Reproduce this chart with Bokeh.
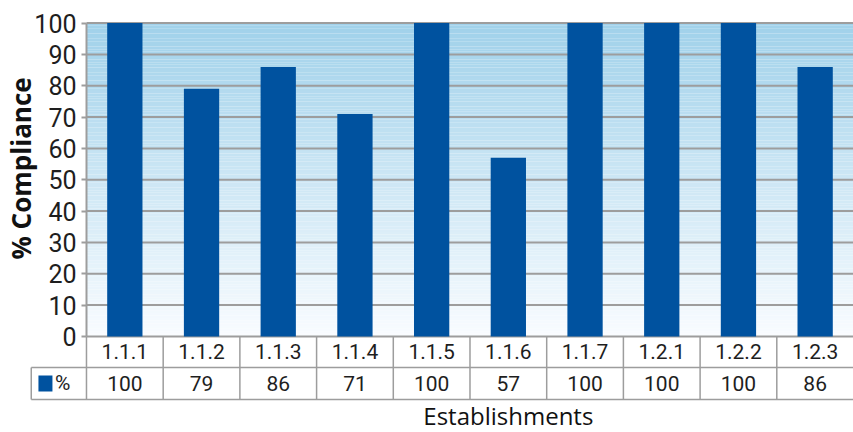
import numpy as np
from bokeh.plotting import figure
from bokeh.models import Range1d, LinearAxis, FixedTicker, Label, ColumnDataSource
from bokeh.core.properties import value
from bokeh.embed import file_html
from bokeh.resources import INLINE

categories = ["1.1.1", "1.1.2", "1.1.3", "1.1.4", "1.1.5", "1.1.6", "1.1.7", "1.2.1", "1.2.2", "1.2.3"]
compliance = [100, 79, 86, 71, 100, 57, 100, 100, 100, 86]
y_ticks = [0, 10, 20, 30, 40, 50, 60, 70, 80, 90, 100]
series_name = "%"
x_title = "Establishments"
y_title = "% Compliance"

FONT = "Roboto"
TITLE_FONT = "Open Sans"
BAR = "#00529f"
GRID = "#9d9d9d"
TXT = "#1e1e1e"

n = len(categories)
idx = np.arange(n)

p = figure(width=853, height=432, output_backend="svg", toolbar_location=None,
           x_range=Range1d(-1.621, n - 0.5), y_range=Range1d(-30.67, 107.2),
           x_axis_location=None, y_axis_location=None,
           min_border_left=0, min_border_right=0, min_border_top=0, min_border_bottom=0)
p.outline_line_color = None
p.xgrid.visible = False
p.ygrid.visible = False
p.background_fill_color = "white"
p.border_fill_color = "white"

# gradient background of the plot area (styling bands)
nb = 120
edges = np.linspace(0, 100, nb + 1)
top_c = np.array([160, 209, 234])
bot_c = np.array([249, 252, 255])
t = (edges[:-1] + edges[1:]) / 200.0
cols = ["#%02x%02x%02x" % tuple(int(round(v)) for v in (bot_c + (top_c - bot_c) * tt)) for tt in t]
p.quad(left=-0.5, right=n - 0.5, bottom=edges[:-1], top=edges[1:], fill_color=cols, line_color=None)

# horizontal grid lines
p.segment(x0=-0.5, x1=n - 0.5, y0=y_ticks, y1=y_ticks, line_color=GRID, line_width=2)

# bars
src = ColumnDataSource(dict(x=idx, top=compliance))
p.vbar(x="x", top="top", width=0.46, source=src, fill_color=BAR, line_color=None)

# y axis
yaxis = LinearAxis(fixed_location=-0.5, ticker=FixedTicker(ticks=y_ticks), bounds=(0, 100))
yaxis.axis_line_color = GRID
yaxis.axis_line_width = 2
yaxis.major_tick_line_color = GRID
yaxis.major_tick_line_width = 2
yaxis.major_tick_out = 5
yaxis.major_tick_in = 0
yaxis.minor_tick_line_color = None
yaxis.major_label_text_font = FONT
yaxis.major_label_text_font_size = "25px"
yaxis.major_label_text_color = TXT
yaxis.major_label_standoff = 5
p.add_layout(yaxis, "left")

# data table below the chart
row1 = -9.9
row2 = -20.1
vx = [-0.5 + k for k in range(n)]
p.segment(x0=vx, x1=vx, y0=0, y1=row2, line_color=GRID, line_width=1.5)
p.segment(x0=[-1.22, -1.22], x1=[n - 0.5, n - 0.5], y0=[row1, row2], y1=[row1, row2], line_color=GRID, line_width=1.5)
p.segment(x0=-1.22, x1=-1.22, y0=row1, y1=row2, line_color=GRID, line_width=1.5)

p.text(x=idx, y=row1 / 2, text=categories, text_align="center", text_baseline="middle",
       text_font=value(FONT), text_font_size="21px", text_color=TXT)
p.text(x=idx, y=(row1 + row2) / 2, text=[str(v) for v in compliance], text_align="center", text_baseline="middle",
       text_font=value(FONT), text_font_size="21px", text_color=TXT)

# legend key in table
p.rect(x=-1.035, y=(row1 + row2) / 2, width=14, height=16, width_units="screen", height_units="screen",
       fill_color=BAR, line_color=None)
p.text(x=-0.91, y=(row1 + row2) / 2, text=[series_name], text_align="left", text_baseline="middle",
       text_font=value(FONT), text_font_size="21px", text_color=TXT)

# titles
p.add_layout(Label(x=5.0, y=-25.2, text=x_title, text_align="center", text_baseline="middle",
                   text_font=TITLE_FONT, text_font_size="24px", text_color="#111111"))
p.add_layout(Label(x=-1.36, y=53.6, text=y_title, text_align="center", text_baseline="middle", angle=np.pi / 2,
                   text_font=TITLE_FONT, text_font_size="26px", text_font_style="bold", text_color="#111111"))

open("out.html", "w").write(file_html(p, INLINE))
